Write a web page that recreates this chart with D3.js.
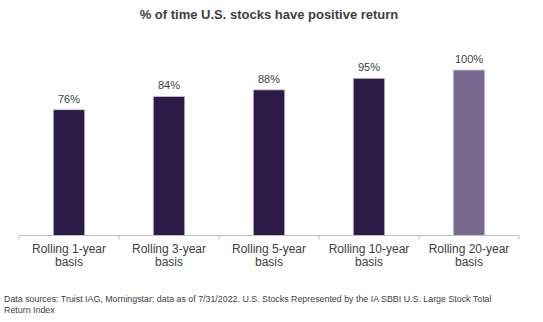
<!DOCTYPE html>
<head>
    <meta charset="utf-8">
    <style>
        body{ margin:0; background:white; }
        svg{ background-color:white; font-family:"Liberation Sans", Arial, sans-serif; }
        text{ fill:#404040; }
    </style>
</head>
<body>
<script src="https://d3js.org/d3.v7.min.js"></script>
<script>

const width = 543;
const height = 322;

const categories = ['Rolling 1-year basis', 'Rolling 3-year basis', 'Rolling 5-year basis', 'Rolling 10-year basis', 'Rolling 20-year basis'];
const values = [76, 84, 88, 95, 100];
const highlight = [false, false, false, false, true];
const footnote = ['Data sources: Truist IAG, Morningstar; data as of 7/31/2022. U.S. Stocks Represented by the IA SBBI U.S. Large Stock Total', 'Return Index'];

const left = 19;
const right = 519;
const baseline = 235.5;

const svg = d3.select('body').append('svg')
    .attr('width', width)
    .attr('height', height);

const x = d3.scaleBand()
    .domain(categories)
    .range([left, right])
    .paddingInner(0.685)
    .paddingOuter(0.3425);

const y = d3.scaleLinear()
    .domain([0, 100])
    .range([baseline, 70]);

// title
svg.append('text')
    .attr('x', (left + right) / 2)
    .attr('y', 19)
    .attr('text-anchor', 'middle')
    .style('font-weight', 'bold')
    .style('font-size', '13px')
    .text('% of time U.S. stocks have positive return');

// bars
svg.selectAll('rect.bar')
    .data(values)
    .join('rect')
    .attr('class', 'bar')
    .attr('x', (d, i) => x(categories[i]))
    .attr('width', x.bandwidth())
    .attr('y', d => y(d))
    .attr('height', d => baseline - y(d))
    .style('fill', (d, i) => highlight[i] ? '#7a6891' : '#2e1a47')
    .style('stroke', '#cfc8d8')
    .style('stroke-width', 0.8);

// value labels
svg.selectAll('text.val')
    .data(values)
    .join('text')
    .attr('class', 'val')
    .attr('x', (d, i) => x(categories[i]) + x.bandwidth() / 2)
    .attr('y', d => y(d) - 7)
    .attr('text-anchor', 'middle')
    .style('font-size', '11px')
    .text(d => d + '%');

// axis line + ticks at band edges
svg.append('line')
    .attr('x1', left).attr('x2', right)
    .attr('y1', baseline).attr('y2', baseline)
    .style('stroke', '#bfbfbf')
    .style('stroke-width', 1);

const edges = categories.map(c => x(c) - x.step() * x.paddingInner() / 2).concat([right]);
svg.selectAll('line.tick')
    .data(edges)
    .join('line')
    .attr('class', 'tick')
    .attr('x1', d => d).attr('x2', d => d)
    .attr('y1', baseline).attr('y2', baseline + 4)
    .style('stroke', '#bfbfbf')
    .style('stroke-width', 1);

// category labels, two lines each
const cat = svg.selectAll('text.cat')
    .data(categories)
    .join('text')
    .attr('class', 'cat')
    .attr('text-anchor', 'middle')
    .style('font-size', '12px');

cat.each(function(d) {
    const cx = x(d) + x.bandwidth() / 2;
    const words = d.split(' ');
    const el = d3.select(this);
    el.append('tspan').attr('x', cx).attr('y', 253).text(words.slice(0, 2).join(' '));
    el.append('tspan').attr('x', cx).attr('y', 266).text(words.slice(2).join(' '));
});

// footnote
svg.append('text')
    .style('font-size', '8.85px')
    .selectAll('tspan')
    .data(footnote)
    .join('tspan')
    .attr('x', 4)
    .attr('y', (d, i) => 302 + i * 10.5)
    .text(d => d);

</script>
</body>
</html>
